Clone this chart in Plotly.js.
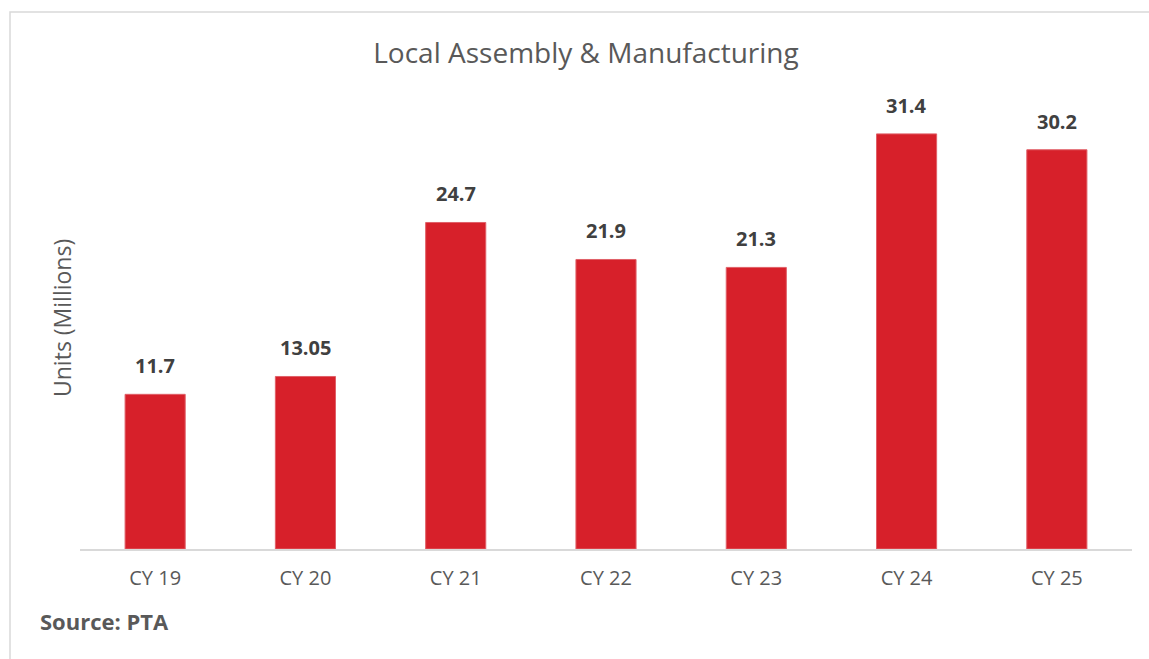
<!DOCTYPE html>
<html><head><meta charset="utf-8">
<script src="https://cdn.plot.ly/plotly-3.0.1.min.js"></script>
<style>html,body{margin:0;padding:0;background:#fff}#chart{width:1149px;height:659px}</style>
</head><body><div id="chart"></div>
<script>
const categories = ["CY 19","CY 20","CY 21","CY 22","CY 23","CY 24","CY 25"];
const units = [11.7, 13.05, 24.7, 21.9, 21.3, 31.4, 30.2];
const valueLabels = ["11.7","13.05","24.7","21.9","21.3","31.4","30.2"];

const FONT = "Open Sans, Lato, sans-serif";
const W = 1149, H = 659;
const L = 80, R = 17, T = 80, B = 110;
const pw = W - L - R, ph = H - T - B;
const px = x => (x - L) / pw;
const py = y => (H - B - y) / ph;

const annotations = categories.map((c, i) => ({
  x: c, y: units[i], xref: 'x', yref: 'y', text: valueLabels[i],
  showarrow: false, yanchor: 'bottom', yshift: 13,
  font: {family: FONT, size: 20, color: '#404040', weight: 'bold'}
}));
annotations.push({
  xref: 'paper', yref: 'paper', x: px(62), y: py(318), text: 'Units (Millions)',
  textangle: -90, showarrow: false, xanchor: 'center', yanchor: 'middle',
  font: {family: FONT, size: 23, color: '#595959'}
});
annotations.push({
  xref: 'paper', yref: 'paper', x: px(38), y: py(621), text: '<b>Source: PTA</b>',
  showarrow: false, xanchor: 'left', yanchor: 'middle',
  font: {family: FONT, size: 22, color: '#595959'}
});

Plotly.newPlot('chart', [{
  type: 'bar', x: categories, y: units,
  marker: {color: '#D7202A', line: {color: '#E06068', width: 1}},
  hoverinfo: 'none'
}], {
  width: W, height: H,
  margin: {l: L, r: R, t: T, b: B},
  paper_bgcolor: '#fff', plot_bgcolor: '#fff',
  bargap: 0.6,
  showlegend: false,
  title: {text: 'Local Assembly &amp; Manufacturing', x: 586 / W, xref: 'container', xanchor: 'center',
          y: 1 - 53 / H, yref: 'container', yanchor: 'middle',
          font: {family: FONT, size: 28, color: '#595959'}},
  xaxis: {showline: true, linecolor: '#d9d9d9', linewidth: 1.5, ticks: '', showgrid: false,
          tickfont: {family: FONT, size: 20, color: '#595959'}, ticklabelstandoff: 10},
  yaxis: {range: [0, (H - B - T) / 13.22], showticklabels: false, showgrid: false, zeroline: false,
          showline: false, ticks: ''},
  annotations: annotations,
  shapes: [{type: 'path', xref: 'paper', yref: 'paper',
            path: `M ${px(10)} ${py(H + 5)} L ${px(10)} ${py(12)} L ${px(W + 5)} ${py(12)}`,
            line: {color: '#d9d9d9', width: 1.5}}]
}, {staticPlot: true});
</script></body></html>
